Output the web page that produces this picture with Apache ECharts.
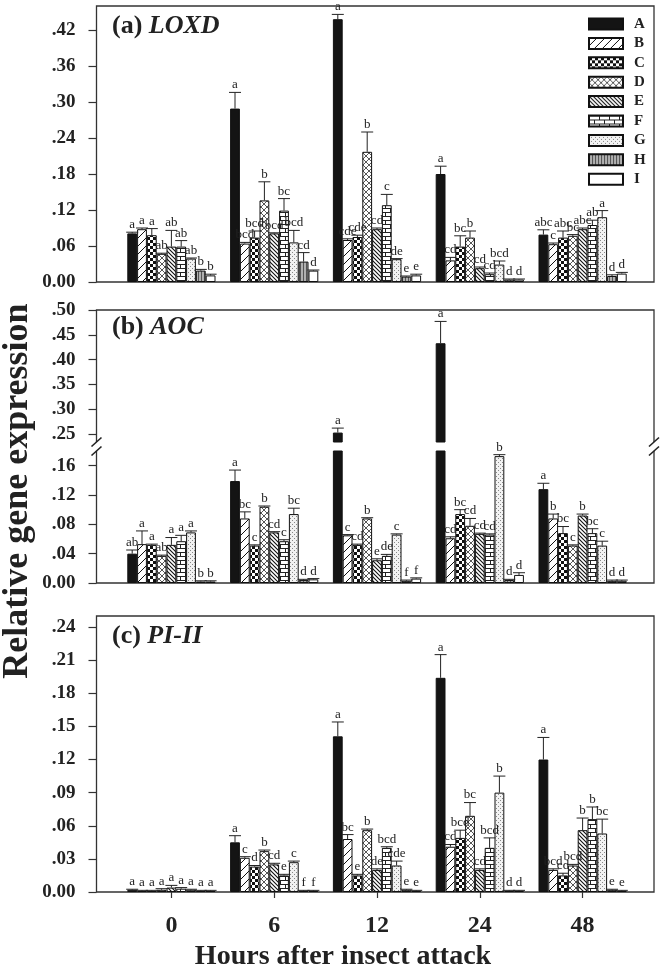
<!DOCTYPE html>
<html><head><meta charset="utf-8">
<script src="https://cdn.jsdelivr.net/npm/echarts@6/dist/echarts.min.js"></script>
<style>html,body{margin:0;padding:0;background:#fff}#c{width:664px;height:969px}</style>
</head><body><div id="c"></div>
<script>
const categories = ['0', '6', '12', '24', '48'];
const seriesNames = ['A', 'B', 'C', 'D', 'E', 'F', 'G', 'H', 'I'];

// (a) LOXD — rows: series A..I, columns: 0, 6, 12, 24, 48 h
const loxdMean = [
  [0.081, 0.289, 0.438, 0.180, 0.079],
  [0.088, 0.064, 0.070, 0.036, 0.063],
  [0.078, 0.074, 0.075, 0.059, 0.074],
  [0.047, 0.136, 0.217, 0.074, 0.077],
  [0.059, 0.081, 0.088, 0.023, 0.088],
  [0.059, 0.119, 0.128, 0.013, 0.095],
  [0.039, 0.066, 0.038, 0.029, 0.108],
  [0.019, 0.034, 0.009, 0.004, 0.010],
  [0.011, 0.019, 0.011, 0.004, 0.014]
];
const loxdErr = [
  [0.002, 0.027, 0.008, 0.013, 0.008],
  [0.002, 0.002, 0.002, 0.005, 0.002],
  [0.011, 0.011, 0.003, 0.018, 0.011],
  [0.001, 0.031, 0.033, 0.011, 0.002],
  [0.027, 0.001, 0.002, 0.002, 0.002],
  [0.010, 0.020, 0.018, 0.002, 0.008],
  [0.001, 0.020, 0.001, 0.006, 0.011],
  [0.002, 0.015, 0.001, 0.001, 0.002],
  [0.002, 0.001, 0.002, 0.001, 0.002]
];
const loxdLetters = [
  ['a', 'a', 'a', 'a', 'abc'],
  ['a', 'bcd', 'cde', 'cd', 'c'],
  ['a', 'bcd', 'cde', 'bc', 'abc'],
  ['ab', 'b', 'b', 'b', 'bc'],
  ['ab', 'bcd', 'cd', 'cd', 'abc'],
  ['ab', 'bc', 'c', 'cd', 'ab'],
  ['ab', 'bcd', 'de', 'bcd', 'a'],
  ['b', 'cd', 'e', 'd', 'd'],
  ['b', 'd', 'e', 'd', 'd']
];

// (b) AOC
const aocMean = [
  [0.040, 0.139, 0.253, 0.433, 0.128],
  [0.053, 0.088, 0.065, 0.061, 0.088],
  [0.052, 0.051, 0.052, 0.094, 0.068],
  [0.037, 0.104, 0.088, 0.078, 0.051],
  [0.052, 0.069, 0.031, 0.067, 0.092],
  [0.057, 0.057, 0.037, 0.066, 0.068],
  [0.069, 0.094, 0.066, 0.173, 0.051],
  [0.002, 0.004, 0.003, 0.004, 0.003],
  [0.002, 0.005, 0.006, 0.011, 0.003]
];
const aocErr = [
  [0.005, 0.015, 0.009, 0.044, 0.008],
  [0.018, 0.009, 0.001, 0.002, 0.006],
  [0.001, 0.001, 0.001, 0.006, 0.009],
  [0.001, 0.001, 0.001, 0.010, 0.001],
  [0.010, 0.001, 0.002, 0.001, 0.002],
  [0.008, 0.002, 0.002, 0.001, 0.006],
  [0.002, 0.008, 0.001, 0.002, 0.006],
  [0.001, 0.001, 0.001, 0.001, 0.001],
  [0.001, 0.001, 0.001, 0.003, 0.001]
];
const aocLetters = [
  ['ab', 'a', 'a', 'a', 'a'],
  ['a', 'bc', 'c', 'cd', 'b'],
  ['a', 'c', 'cd', 'bc', 'bc'],
  ['ab', 'b', 'b', 'cd', 'c'],
  ['a', 'cd', 'e', 'cd', 'b'],
  ['a', 'c', 'de', 'cd', 'bc'],
  ['a', 'bc', 'c', 'b', 'c'],
  ['b', 'd', 'f', 'd', 'd'],
  ['b', 'd', 'f', 'd', 'd']
];

// (c) PI-II
const piMean = [
  [0.002, 0.045, 0.141, 0.194, 0.120],
  [0.001, 0.031, 0.048, 0.041, 0.020],
  [0.001, 0.023, 0.015, 0.049, 0.015],
  [0.002, 0.037, 0.056, 0.069, 0.024],
  [0.004, 0.025, 0.020, 0.020, 0.056],
  [0.003, 0.015, 0.040, 0.040, 0.066],
  [0.002, 0.027, 0.024, 0.090, 0.053],
  [0.001, 0.001, 0.002, 0.001, 0.002],
  [0.001, 0.001, 0.001, 0.001, 0.001]
];
const piErr = [
  [0.0005, 0.006, 0.013, 0.021, 0.020],
  [0.0005, 0.001, 0.004, 0.002, 0.001],
  [0.0005, 0.001, 0.001, 0.007, 0.002],
  [0.001, 0.001, 0.001, 0.012, 0.001],
  [0.002, 0.001, 0.001, 0.001, 0.011],
  [0.001, 0.001, 0.001, 0.009, 0.011],
  [0.0005, 0.001, 0.004, 0.015, 0.013],
  [0.0005, 0.0005, 0.0005, 0.0005, 0.0005],
  [0.0005, 0.0005, 0.0005, 0.0005, 0.0005]
];
const piLetters = [
  ['a', 'a', 'a', 'a', 'a'],
  ['a', 'c', 'bc', 'cd', 'bcd'],
  ['a', 'd', 'e', 'bcd', 'cd'],
  ['a', 'b', 'b', 'bc', 'bcd'],
  ['a', 'cd', 'de', 'cd', 'b'],
  ['a', 'e', 'bcd', 'bcd', 'b'],
  ['a', 'c', 'cde', 'b', 'bc'],
  ['a', 'f', 'e', 'd', 'e'],
  ['a', 'f', 'e', 'd', 'e']
];

const ticksLOXD = [0, 0.06, 0.12, 0.18, 0.24, 0.30, 0.36, 0.42];
const ticksAOCHigh = [0.25, 0.30, 0.35, 0.40, 0.45, 0.50];
const ticksAOCLow = [0, 0.04, 0.08, 0.12, 0.16];
const ticksPI = [0, 0.03, 0.06, 0.09, 0.12, 0.15, 0.18, 0.21, 0.24];

const SERIF = '"Liberation Serif","Times New Roman",serif';
const BW = 9.8;

function mk(w, h, draw) {
  const c = document.createElement('canvas');
  c.width = w; c.height = h;
  const g = c.getContext('2d');
  g.fillStyle = '#fff'; g.fillRect(0, 0, w, h);
  draw(g, w, h);
  return { image: c, repeat: 'repeat' };
}
function lines(g, segs, color, lw) {
  g.strokeStyle = color; g.lineWidth = lw; g.beginPath();
  segs.forEach(s => { g.moveTo(s[0], s[1]); g.lineTo(s[2], s[3]); });
  g.stroke();
}
const fills = [
  '#141414',
  mk(8, 8, g => lines(g, [[-1, 9, 9, -1], [-1, 1, 1, -1], [7, 9, 9, 7]], '#111', 1)),
  mk(6, 6, g => { g.fillStyle = '#111'; g.fillRect(0, 0, 3, 3); g.fillRect(3, 3, 3, 3); }),
  mk(6, 6, g => lines(g, [[-1, 7, 7, -1], [-1, 1, 1, -1], [5, 7, 7, 5], [-1, -1, 7, 7], [-1, 5, 1, 7], [5, -1, 7, 1]], '#444', 0.9)),
  mk(4, 4, g => lines(g, [[-1, -1, 5, 5], [-1, 3, 1, 5], [3, -1, 5, 1]], '#111', 1.1)),
  mk(10, 8, g => { lines(g, [[0, 0.5, 10, 0.5], [0, 4.5, 10, 4.5], [0.5, 0, 0.5, 4.5], [5.5, 4.5, 5.5, 8]], '#222', 1); }),
  mk(4, 4, g => { g.fillStyle = '#f2f2f2'; g.fillRect(0, 0, 4, 4); g.fillStyle = '#888'; g.fillRect(0, 0, 1, 1); g.fillRect(2, 2, 1, 1); }),
  mk(3, 3, g => { g.fillStyle = '#b0b0b0'; g.fillRect(0, 0, 3, 3); g.fillStyle = '#555'; g.fillRect(0, 0, 1, 3); }),
  '#ffffff'
];

const panels = [
  { mean: loxdMean, err: loxdErr, letters: loxdLetters, min: 0, max: 0.46, ticks: ticksLOXD, top: 6, height: 276, showX: false, keep: (v, e) => true },
  { mean: aocMean, err: aocErr, letters: aocLetters, min: 0.234, max: 0.5, ticks: ticksAOCHigh, top: 310, height: 132, showX: false, keep: (v, e) => v + e > 0.18 },
  { mean: aocMean, err: aocErr, letters: aocLetters, min: 0, max: 0.18, ticks: ticksAOCLow, top: 451, height: 132, showX: false, keep: (v, e) => v + e <= 0.18 },
  { mean: piMean, err: piErr, letters: piLetters, min: 0, max: 0.25, ticks: ticksPI, top: 616, height: 276, showX: true, keep: (v, e) => true }
];

const fmt = v => Math.abs(v) < 1e-9 ? '0.00' : v.toFixed(2).replace(/^0/, '');

const series = [];
panels.forEach((p, i) => {
  seriesNames.forEach((name, s) => {
    series.push({
      type: 'bar', name, xAxisIndex: i, yAxisIndex: i,
      data: p.mean[s].map(v => (v >= p.min ? v : '-')),
      barWidth: BW, barGap: '0%', clip: true, silent: true,
      itemStyle: { color: fills[s], borderColor: '#111', borderWidth: 1 },
      emphasis: { disabled: true }
    });
  });
  const items = [], labels = [];
  for (let c = 0; c < categories.length; c++) {
    for (let s = 0; s < seriesNames.length; s++) {
      const v = p.mean[s][c], e = p.err[s][c];
      if (p.keep(v, e)) { items.push([c, s, v, e]); labels.push(p.letters[s][c]); }
    }
  }
  series.push({
    type: 'custom', xAxisIndex: i, yAxisIndex: i, z: 5, silent: true,
    encode: { x: 0, y: 2 }, data: items,
    renderItem: (params, api) => {
      const c = api.value(0), s = api.value(1), v = api.value(2), e = api.value(3);
      const p0 = api.coord([c, v]);
      const p1 = api.coord([c, v + e]);
      const x = p0[0] + (s - 4) * BW;
      return {
        type: 'group', children: [
          { type: 'line', shape: { x1: x, y1: p0[1], x2: x, y2: p1[1] }, style: { stroke: '#222', lineWidth: 1 } },
          { type: 'line', shape: { x1: x - 6, y1: p1[1], x2: x + 6, y2: p1[1] }, style: { stroke: '#222', lineWidth: 1 } },
          { type: 'text', style: { text: labels[params.dataIndex], x: x, y: p1[1] - 1, align: 'center', verticalAlign: 'bottom', fontSize: 13, fontFamily: SERIF, fill: '#222' } }
        ]
      };
    }
  });
});

const L = 96.5, R = 654, st = { stroke: '#333', lineWidth: 1.3, fill: null };
function slash(x, y) { return { type: 'line', shape: { x1: x - 5, y1: y + 4.5, x2: x + 5, y2: y - 4.5 }, style: { stroke: '#222', lineWidth: 1.6 } }; }
function title(txt, gene, y) {
  return {
    type: 'text', x: 112, y: y, style: {
      text: '{n|' + txt + ' }{g|' + gene + '}', verticalAlign: 'middle',
      rich: {
        n: { fontFamily: SERIF, fontWeight: 'bold', fontSize: 26, fill: '#222' },
        g: { fontFamily: SERIF, fontWeight: 'bold', fontStyle: 'italic', fontSize: 26, fill: '#222' }
      }
    }
  };
}

const option = {
  animation: false,
  backgroundColor: '#fff',
  grid: panels.map(p => ({ left: 120, right: 30, top: p.top, height: p.height })),
  xAxis: panels.map((p, i) => ({
    type: 'category', gridIndex: i, data: categories,
    axisLine: { show: false },
    axisTick: { show: p.showX, alignWithLabel: true, length: 6, lineStyle: { color: '#333', width: 1.2 } },
    axisLabel: { show: p.showX, margin: 22, fontFamily: SERIF, fontWeight: 'bold', fontSize: 24, color: '#222' },
    splitLine: { show: false }
  })),
  yAxis: panels.map((p, i) => ({
    type: 'value', gridIndex: i, min: p.min, max: p.max, offset: 23.5,
    axisLine: { show: false },
    axisTick: { show: true, length: 8, customValues: p.ticks, lineStyle: { color: '#333', width: 1.2 } },
    axisLabel: { customValues: p.ticks, formatter: fmt, margin: 21, fontFamily: SERIF, fontWeight: 'bold', fontSize: 19, color: '#222' },
    splitLine: { show: false }
  })),
  legend: {
    data: seriesNames, orient: 'vertical', left: 588, top: 16.5, padding: 0,
    itemWidth: 34, itemHeight: 11, itemGap: 4.4, icon: 'rect', selectedMode: false,
    textStyle: { fontFamily: SERIF, fontWeight: 'bold', fontSize: 15, lineHeight: 15, color: '#222', padding: [0, 0, 0, 6] }
  },
  graphic: [
    { type: 'rect', shape: { x: L, y: 6, width: R - L, height: 276 }, style: st },
    { type: 'polyline', shape: { points: [[L, 442], [L, 310], [R, 310], [R, 442]] }, style: st },
    { type: 'polyline', shape: { points: [[L, 451], [L, 583], [R, 583], [R, 451]] }, style: st },
    { type: 'rect', shape: { x: L, y: 616, width: R - L, height: 276 }, style: st },
    slash(L, 442), slash(L, 451), slash(R, 442), slash(R, 451),
    title('(a)', 'LOXD', 26),
    title('(b)', 'AOC', 327),
    title('(c)', 'PI-II', 636),
    { type: 'text', x: 18, y: 491, rotation: Math.PI / 2, style: { text: 'Relative gene expression', align: 'center', verticalAlign: 'middle', fontFamily: SERIF, fontWeight: 'bold', fontSize: 36, fill: '#222' } },
    { type: 'text', x: 343, y: 957, style: { text: 'Hours after insect attack', align: 'center', verticalAlign: 'middle', fontFamily: SERIF, fontWeight: 'bold', fontSize: 28, fill: '#222' } }
  ],
  series
};

const chart = echarts.init(document.getElementById('c'), null, { renderer: 'canvas' });
chart.setOption(option);
</script>
</body></html>
